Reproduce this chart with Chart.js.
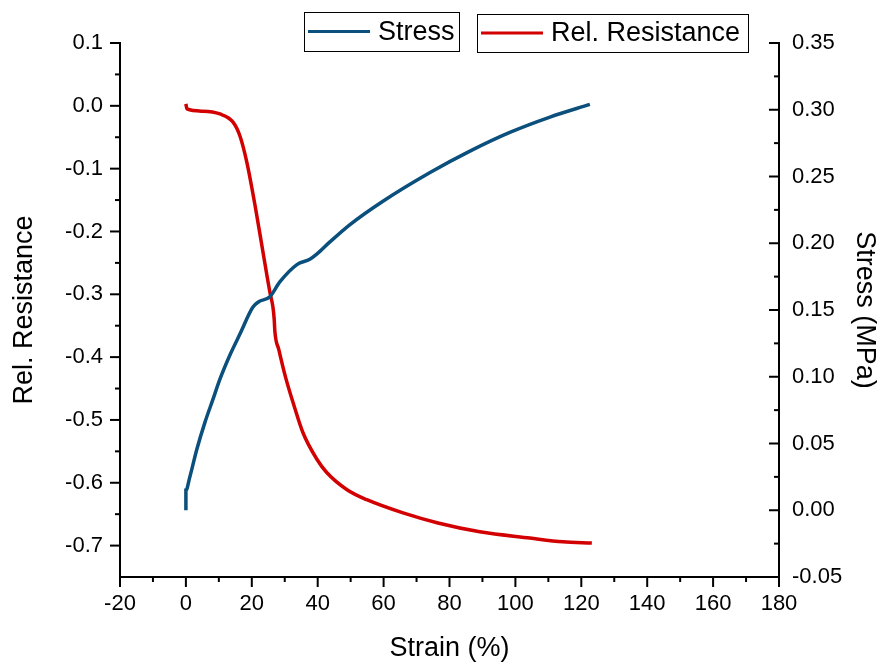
<!DOCTYPE html>
<html>
<head>
<meta charset="utf-8">
<script src="https://cdn.jsdelivr.net/npm/chart.js@4"></script>
<style>
  html, body { margin: 0; padding: 0; background: #fff; }
  #wrap { width: 878px; height: 662px; }
</style>
</head>
<body>
<div id="wrap"><canvas id="chart" width="878" height="662"></canvas></div>
<script>
// ---- data ----
const stressStrain = [0, 0, 1.2, 3.3, 5.8, 8.2, 10.3, 13.5, 16.4, 20.3, 22.0, 25.5, 28.5, 33.7, 37.6, 39.8, 43.7, 49.8, 59.8, 74.1, 86.2, 98.3, 110.5, 122.6];
const stressValues = [0.0, 0.015, 0.025, 0.0455, 0.066, 0.083, 0.098, 0.117, 0.132, 0.152, 0.156, 0.160, 0.171, 0.184, 0.188, 0.192, 0.201, 0.214, 0.2315, 0.253, 0.269, 0.283, 0.2945, 0.304];

const resStrain = [0, 0.3, 5.2, 10.3, 14.3, 16.4, 18.5, 21.2, 23.4, 25.5, 26.4, 26.8, 27.0, 28.2, 30.3, 32.8, 35.5, 39.8, 42.8, 48.9, 54.9, 65.9, 76.5, 89.2, 104.4, 114.4, 123.2];
const resValues = [0.003, -0.005, -0.0085, -0.013, -0.026, -0.048, -0.090, -0.165, -0.233, -0.297, -0.320, -0.340, -0.359, -0.388, -0.433, -0.477, -0.520, -0.563, -0.584, -0.611, -0.627, -0.648, -0.664, -0.678, -0.688, -0.694, -0.696];

const xTicks     = [-20, 0, 20, 40, 60, 80, 100, 120, 140, 160, 180];
const leftTicks  = [-0.7, -0.6, -0.5, -0.4, -0.3, -0.2, -0.1, 0.0, 0.1];
const rightTicks = [-0.05, 0.00, 0.05, 0.10, 0.15, 0.20, 0.25, 0.30, 0.35];

const BLUE = '#0b4f7c';
const RED  = '#d20000';
const FONT = 'Arial, "Liberation Sans", sans-serif';

const toPoints = (xs, ys) => xs.map((x, i) => ({ x: x, y: ys[i] }));

// minor ticks sit half way between major ones
function minors(list) {
  const out = [];
  for (let i = 0; i < list.length - 1; i++) out.push((list[i] + list[i + 1]) / 2);
  return out;
}

// Origin-style tick marks (left/bottom outward, right inward)
const tickMarks = {
  id: 'tickMarks',
  afterDraw(chart) {
    const { ctx, chartArea: a, scales } = chart;
    ctx.save();
    ctx.strokeStyle = '#000';
    ctx.lineWidth = 2;
    const seg = (x1, y1, x2, y2) => { ctx.beginPath(); ctx.moveTo(x1, y1); ctx.lineTo(x2, y2); ctx.stroke(); };

    xTicks.forEach(v => { const p = scales.x.getPixelForValue(v); seg(p, a.bottom, p, a.bottom + 10); });
    minors(xTicks).forEach(v => { const p = scales.x.getPixelForValue(v); seg(p, a.bottom, p, a.bottom + 5); });

    leftTicks.forEach(v => { const p = scales.yL.getPixelForValue(v); seg(a.left, p, a.left - 10, p); });
    minors(leftTicks).forEach(v => { const p = scales.yL.getPixelForValue(v); seg(a.left, p, a.left - 5, p); });

    rightTicks.forEach(v => { const p = scales.yR.getPixelForValue(v); seg(a.right, p, a.right - 10, p); });
    minors(rightTicks).forEach(v => { const p = scales.yR.getPixelForValue(v); seg(a.right, p, a.right - 5, p); });
    ctx.restore();
  }
};

// two separate framed legend entries, like the original
const boxedLegend = {
  id: 'boxedLegend',
  afterDraw(chart) {
    const { ctx } = chart;
    const ds = chart.data.datasets;
    const boxes = [
      { d: ds[0], x: 304, y: 12, w: 155, h: 39 },
      { d: ds[1], x: 477, y: 14, w: 271, h: 38 }
    ];
    ctx.save();
    ctx.font = '27px ' + FONT;
    ctx.textBaseline = 'middle';
    boxes.forEach(b => {
      const cy = b.y + b.h / 2;
      ctx.fillStyle = '#fff';
      ctx.fillRect(b.x, b.y, b.w, b.h);
      ctx.strokeStyle = '#000';
      ctx.lineWidth = 1;
      ctx.strokeRect(b.x + 0.5, b.y + 0.5, b.w, b.h);
      ctx.strokeStyle = b.d.borderColor;
      ctx.lineWidth = 3;
      ctx.beginPath(); ctx.moveTo(b.x + 4, cy); ctx.lineTo(b.x + 66, cy); ctx.stroke();
      ctx.fillStyle = '#000';
      ctx.fillText(b.d.label, b.x + 74, cy + 1);
    });
    ctx.restore();
  }
};

new Chart(document.getElementById('chart'), {
  type: 'line',
  data: {
    datasets: [
      {
        label: 'Stress',
        data: toPoints(stressStrain, stressValues),
        yAxisID: 'yR',
        borderColor: BLUE,
        borderWidth: 3.5,
        pointRadius: 0,
        cubicInterpolationMode: 'monotone',
        fill: false
      },
      {
        label: 'Rel. Resistance',
        data: toPoints(resStrain, resValues),
        yAxisID: 'yL',
        borderColor: RED,
        borderWidth: 3.5,
        pointRadius: 0,
        cubicInterpolationMode: 'monotone',
        fill: false
      }
    ]
  },
  options: {
    responsive: false,
    devicePixelRatio: 1,
    animation: false,
    layout: { padding: { top: 43, left: 0, right: 0, bottom: 0 } },
    plugins: { legend: { display: false }, tooltip: { enabled: false } },
    scales: {
      x: {
        type: 'linear',
        min: -20, max: 180,
        afterBuildTicks: s => { s.ticks = xTicks.map(v => ({ value: v })); },
        afterFit: s => { s.height = 85; },
        grid: { display: false, drawTicks: false },
        border: { display: true, color: '#000', width: 2 },
        ticks: { color: '#000', font: { family: FONT, size: 22 }, padding: 14, maxRotation: 0,
                 callback: v => String(v) },
        title: { display: true, text: 'Strain (%)', color: '#000', padding: 0,
                 font: { family: FONT, size: 27, lineHeight: 1 } }
      },
      yL: {
        type: 'linear',
        position: 'left',
        min: -0.75, max: 0.1,
        afterBuildTicks: s => { s.ticks = leftTicks.map(v => ({ value: v })); },
        afterFit: s => { s.width = 120; },
        grid: { display: false, drawTicks: false },
        border: { display: true, color: '#000', width: 2 },
        ticks: { color: '#000', font: { family: FONT, size: 22 }, padding: 17,
                 callback: v => v.toFixed(1) },
        title: { display: true, text: 'Rel. Resistance', color: '#000', padding: { top: 11, bottom: 0 },
                 font: { family: FONT, size: 27, lineHeight: 1 } }
      },
      yR: {
        type: 'linear',
        position: 'right',
        min: -0.05, max: 0.35,
        afterBuildTicks: s => { s.ticks = rightTicks.map(v => ({ value: v })); },
        afterFit: s => { s.width = 99; },
        grid: { display: false, drawTicks: false },
        border: { display: true, color: '#000', width: 2 },
        ticks: { color: '#000', font: { family: FONT, size: 22 }, padding: 13,
                 callback: v => v.toFixed(2) },
        title: { display: true, text: 'Stress (MPa)', color: '#000', padding: 0,
                 font: { family: FONT, size: 27, lineHeight: 1 } }
      }
    }
  },
  plugins: [tickMarks, boxedLegend]
});
</script>
</body>
</html>
